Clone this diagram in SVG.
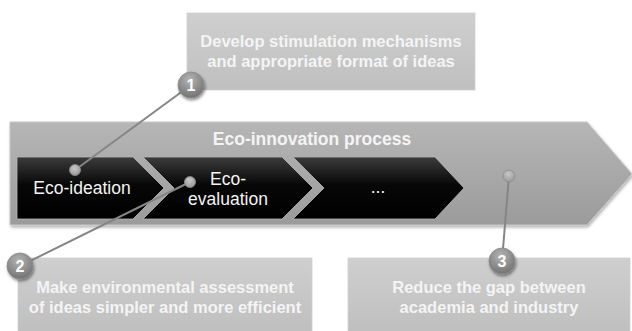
<svg xmlns="http://www.w3.org/2000/svg" width="632" height="331" viewBox="0 0 632 331">
<defs>
<linearGradient id="gArrow" x1="0" y1="0" x2="0" y2="1">
<stop offset="0" stop-color="#b6b6b6"/>
<stop offset="1" stop-color="#9b9b9b"/>
</linearGradient>
<linearGradient id="gChev" x1="0" y1="0" x2="0" y2="1">
<stop offset="0" stop-color="#3c3c3c"/>
<stop offset="0.45" stop-color="#070707"/>
<stop offset="1" stop-color="#000000"/>
</linearGradient>
<linearGradient id="gBox" x1="0" y1="0" x2="0" y2="1">
<stop offset="0" stop-color="#cfcfcf"/>
<stop offset="1" stop-color="#bfbfbf"/>
</linearGradient>
<radialGradient id="gNum" cx="0.45" cy="0.3" r="0.75">
<stop offset="0" stop-color="#b4b4b4"/>
<stop offset="1" stop-color="#6e6e6e"/>
</radialGradient>
<radialGradient id="gDot" cx="0.45" cy="0.35" r="0.7">
<stop offset="0" stop-color="#c8c8c8"/>
<stop offset="1" stop-color="#959595"/>
</radialGradient>
<filter id="sh" x="-10%" y="-20%" width="130%" height="150%">
<feDropShadow dx="1" dy="2" stdDeviation="1.5" flood-color="#000" flood-opacity="0.3"/>
</filter>
<filter id="shc" x="-50%" y="-50%" width="200%" height="200%">
<feDropShadow dx="1" dy="2" stdDeviation="1.5" flood-color="#000" flood-opacity="0.45"/>
</filter>
</defs>
<style>
.lbl{font-family:"Liberation Sans",Arial,sans-serif;fill:#f4f4f4;text-anchor:middle}
.bold{font-weight:bold}
.chev{fill:url(#gChev);stroke:#b8b8b8;stroke-width:0.8}
.box{fill:url(#gBox);stroke:#d0d0d0;stroke-width:0.8}
.num{fill:url(#gNum);stroke:#8a8a8a;stroke-width:0.8}
.numt{font-family:"Liberation Sans",Arial,sans-serif;font-weight:bold;font-size:16px;fill:#ffffff;text-anchor:middle}
.conn{stroke:#858585;stroke-width:2;fill:none}
.dot{fill:url(#gDot);stroke:#8c8c8c;stroke-width:0.8}
</style>
<rect width="632" height="331" fill="#ffffff"/>

<g id="process">
<polygon points="10,122 587,122 632,174 587,225 10,225" fill="url(#gArrow)" stroke="#c6c6c6" stroke-width="1" filter="url(#sh)"/>
<text class="lbl bold" x="312" y="145" font-size="17.5">Eco-innovation process</text>
</g>

<g id="chevron-1">
<polygon class="chev" points="17,157 133,157 164,188 133,219 17,219"/>
<text class="lbl" x="82" y="194" font-size="17.5">Eco-ideation</text>
</g>

<g id="chevron-2">
<polygon class="chev" points="143,157 282,157 313,188 282,219 143,219 174,188"/>
<text class="lbl" x="228" y="185" font-size="17.5">Eco-</text>
<text class="lbl" x="228" y="205" font-size="17.5">evaluation</text>
</g>

<g id="chevron-3">
<polygon class="chev" points="293,157 435,157 464,188 435,219 293,219 324,188"/>
<text class="lbl" x="378" y="193" font-size="17.5">...</text>
</g>

<g id="callout-box-1">
<rect class="box" x="187" y="13" width="288" height="77"/>
<text class="lbl bold" x="331" y="47" font-size="16.5">Develop stimulation mechanisms</text>
<text class="lbl bold" x="331" y="67" font-size="16.5">and appropriate format of ideas</text>
</g>

<g id="callout-box-2">
<rect class="box" x="18" y="258" width="294" height="74"/>
<text class="lbl bold" x="165" y="293" font-size="16.5">Make environmental assessment</text>
<text class="lbl bold" x="165" y="313" font-size="16.5">of ideas simpler and more efficient</text>
</g>

<g id="callout-box-3">
<rect class="box" x="348" y="258" width="282" height="74"/>
<text class="lbl bold" x="489" y="293" font-size="16.5">Reduce the gap between</text>
<text class="lbl bold" x="489" y="313" font-size="16.5">academia and industry</text>
</g>

<g id="connectors">
<line class="conn" x1="75" y1="170" x2="191" y2="85"/>
<line class="conn" x1="190" y1="182" x2="20" y2="266"/>
<line class="conn" x1="509" y1="176" x2="502" y2="261"/>
<circle class="dot" cx="75" cy="170" r="5.5"/>
<circle class="dot" cx="190" cy="182" r="5.5"/>
<circle class="dot" cx="509" cy="176" r="6"/>
</g>

<g id="marker-1">
<circle class="num" cx="191" cy="85" r="13" filter="url(#shc)"/>
<text class="numt" x="191" y="91">1</text>
</g>
<g id="marker-2">
<circle class="num" cx="20" cy="266" r="13" filter="url(#shc)"/>
<text class="numt" x="20" y="272">2</text>
</g>
<g id="marker-3">
<circle class="num" cx="502" cy="261" r="13" filter="url(#shc)"/>
<text class="numt" x="502" y="267">3</text>
</g>
</svg>
